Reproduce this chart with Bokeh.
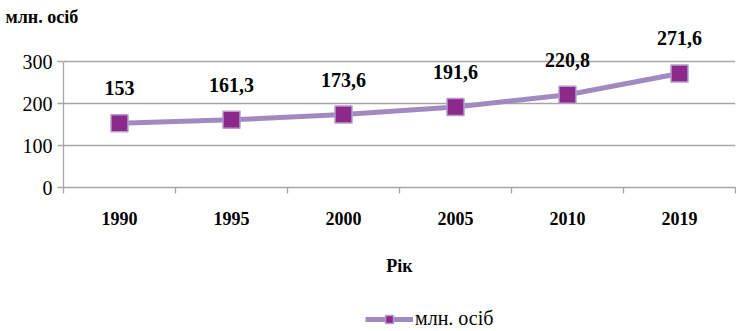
import numpy as np
from bokeh.plotting import figure
from bokeh.layouts import column
from bokeh.models import (ColumnDataSource, Range1d, FixedTicker, Legend, LegendItem,
                          LabelSet)
from bokeh.core.properties import value
from bokeh.embed import file_html
from bokeh.resources import INLINE

# Population, million persons
years = ["1990", "1995", "2000", "2005", "2010", "2019"]
population = [153, 161.3, 173.6, 191.6, 220.8, 271.6]
population_text = ["153", "161,3", "173,6", "191,6", "220,8", "271,6"]
y_ticks = [0, 100, 200, 300]

x_pos = np.arange(len(years)) + 0.5
src = ColumnDataSource(dict(x=x_pos, y=population, txt=population_text))

SERIF = "Liberation Serif"
GRID = "#a6a6a6"
LINE_STYLE = dict(line_color="#a18ac0", line_width=5)
MARK_STYLE = dict(marker="square", size=17, fill_color="#8b2a8b",
                  line_color="#b49dcb", line_width=1.5)

p = figure(width=736, height=300, output_backend="svg", toolbar_location=None,
           x_range=Range1d(0, len(years)), y_range=Range1d(0, 381),
           min_border_left=63, min_border_right=1, min_border_top=27,
           min_border_bottom=113)
p.outline_line_color = None
p.background_fill_color = "white"

# unit caption above the plot, pushed to the left edge
p.title.text = "млн. осіб"
p.title.text_font = SERIF
p.title.text_font_style = "bold"
p.title.text_font_size = "18px"
p.title.text_color = "black"
p.title.align = "left"
p.title.offset = -58
p.title.standoff = 0
p.title.vertical_align = "middle"

# horizontal gridlines only
p.xgrid.visible = False
p.ygrid.ticker = FixedTicker(ticks=y_ticks)
p.ygrid.grid_line_color = GRID
p.ygrid.grid_line_width = 1.3

# y axis
p.yaxis.ticker = FixedTicker(ticks=y_ticks)
p.yaxis.bounds = (0, 300)
p.yaxis.axis_line_color = GRID
p.yaxis.axis_line_width = 1.3
p.yaxis.major_tick_line_color = GRID
p.yaxis.major_tick_line_width = 1.3
p.yaxis.major_tick_out = 6
p.yaxis.major_tick_in = 0
p.yaxis.minor_tick_line_color = None
p.yaxis.major_label_text_font = SERIF
p.yaxis.major_label_text_font_size = "20px"
p.yaxis.major_label_text_color = "black"
p.yaxis.major_label_standoff = 5

# x axis: labels at category centres, ticks at category boundaries
p.xaxis.ticker = FixedTicker(ticks=list(x_pos), minor_ticks=list(range(len(years) + 1)))
p.xaxis.major_label_overrides = {float(x): yr for x, yr in zip(x_pos, years)}
p.xaxis.axis_line_color = GRID
p.xaxis.axis_line_width = 1.3
p.xaxis.major_tick_line_color = None
p.xaxis.minor_tick_line_color = GRID
p.xaxis.minor_tick_line_width = 1.3
p.xaxis.minor_tick_out = 6
p.xaxis.minor_tick_in = 0
p.xaxis.major_label_text_font = SERIF
p.xaxis.major_label_text_font_style = "bold"
p.xaxis.major_label_text_font_size = "18px"
p.xaxis.major_label_text_color = "black"
p.xaxis.major_label_standoff = 18
p.xaxis.axis_label = "Рік"
p.xaxis.axis_label_text_font = SERIF
p.xaxis.axis_label_text_font_style = "bold"
p.xaxis.axis_label_text_font_size = "18px"
p.xaxis.axis_label_text_color = "black"
p.xaxis.axis_label_standoff = 28

p.line("x", "y", source=src, **LINE_STYLE)
p.scatter("x", "y", source=src, **MARK_STYLE)

labels = LabelSet(x="x", y="y", text="txt", source=src, y_offset=35,
                  text_align="center", text_baseline="middle",
                  text_font=value(SERIF), text_font_style="bold",
                  text_font_size="20px", text_color="black")
p.add_layout(labels)

# legend strip under the chart; its series lie outside the strip's ranges
leg = figure(width=736, height=31, output_backend="svg", toolbar_location=None,
             x_range=Range1d(100, 101), y_range=Range1d(1000, 1001),
             x_axis_location=None, y_axis_location=None,
             min_border_left=0, min_border_right=0, min_border_top=0,
             min_border_bottom=0)
leg.outline_line_color = None
leg.grid.visible = False
leg.background_fill_color = "white"
leg_line = leg.line("x", "y", source=src, **LINE_STYLE)
leg_pts = leg.scatter("x", "y", source=src, **MARK_STYLE)

legend = Legend(items=[LegendItem(label="млн. осіб", renderers=[leg_line, leg_pts])],
                orientation="horizontal", location=(302, 1),
                label_text_font=SERIF, label_text_font_size="20px",
                label_text_color="black", glyph_width=48, glyph_height=20,
                label_standoff=2, border_line_color=None,
                margin=0, padding=0, background_fill_alpha=0)
leg.add_layout(legend)

layout = column(p, leg, spacing=0)

open("out.html", "w").write(file_html(layout, INLINE))
